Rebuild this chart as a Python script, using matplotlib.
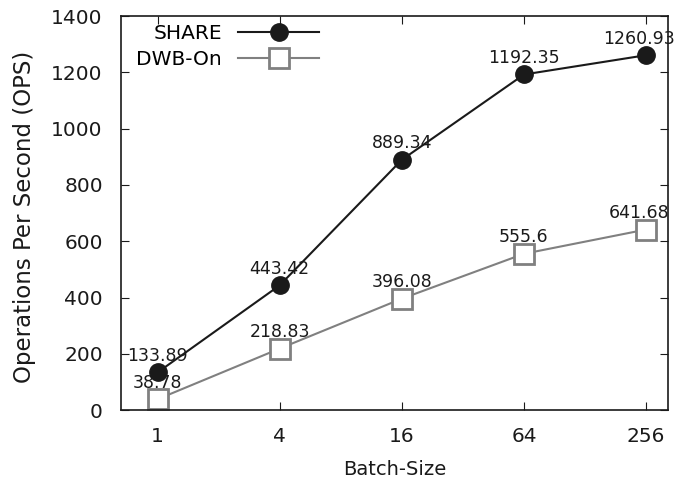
import matplotlib.pyplot as plt

batch_sizes = ["1", "4", "16", "64", "256"]
share_ops = [133.89, 443.42, 889.34, 1192.35, 1260.93]
dwb_ops = [38.78, 218.83, 396.08, 555.6, 641.68]
share_labels = ["133.89", "443.42", "889.34", "1192.35", "1260.93"]
dwb_labels = ["38.78", "218.83", "396.08", "555.6", "641.68"]

plt.rcParams['font.family'] = ['DejaVu Sans']

fig = plt.figure(figsize=(6.79, 4.86), dpi=100)
ax = fig.add_axes([0.178, 0.156, 0.806, 0.811])

x = list(range(len(batch_sizes)))

ax.plot(x, share_ops, color='#1a1a1a', lw=1.5, marker='o', markersize=12.5,
        markerfacecolor='#1a1a1a', markeredgecolor='#1a1a1a', label='SHARE', zorder=3)
ax.plot(x, dwb_ops, color='#808080', lw=1.5, marker='s', markersize=14,
        markerfacecolor='white', markeredgecolor='#808080', markeredgewidth=2,
        label='DWB-On', zorder=2)

# value labels above the points, last column nudged left so it stays inside
for vals, labs in [(share_ops, share_labels), (dwb_ops, dwb_labels)]:
    for xi, yi, lab in zip(x, vals, labs):
        dx = -5 if xi == x[-1] else 0
        ax.annotate(lab, (xi, yi), xytext=(dx, 12), textcoords='offset points',
                    ha='center', va='center', fontsize=12.5, color='#1a1a1a')

ax.set_xlim(-0.3, 4.18)
ax.set_ylim(0, 1400)
ax.set_xticks(x)
ax.set_xticklabels(batch_sizes)
ax.set_yticks(range(0, 1401, 200))
ax.tick_params(axis='y', pad=13)
ax.tick_params(axis='x', pad=12)
ax.tick_params(direction='in', top=True, right=True, labelsize=14.5, length=6,
               colors='#1a1a1a')
for s in ax.spines.values():
    s.set_linewidth(1.2)
    s.set_color('#1a1a1a')

ax.set_xlabel('Batch-Size', fontsize=14, labelpad=10, color='#1a1a1a')
ax.set_ylabel('Operations Per Second (OPS)', fontsize=16.5, color='#1a1a1a')
ax.yaxis.set_label_coords(-0.155, 0.49)

ax.legend(loc='upper left', frameon=False, markerfirst=False, fontsize=14.5,
          handlelength=4.0, borderaxespad=0.1, labelspacing=0.35, handletextpad=0.8,
          bbox_to_anchor=(0.01, 1.005))

fig.savefig('out.png')
